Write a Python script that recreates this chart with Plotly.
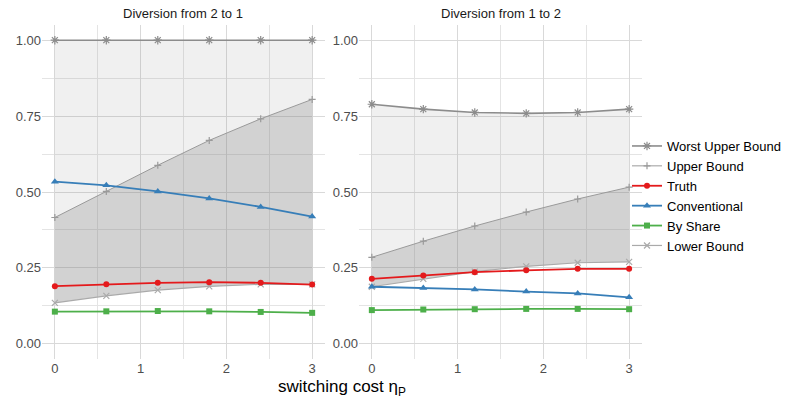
import plotly.graph_objects as go
from plotly.subplots import make_subplots

x_vals = [0, 0.6, 1.2, 1.8, 2.4, 3.0]
panel_titles = ["Diversion from 2 to 1", "Diversion from 1 to 2"]

# Panel 1: Diversion from 2 to 1
worst_upper_21 = [1.0, 1.0, 1.0, 1.0, 1.0, 1.0]
upper_21 = [0.416, 0.502, 0.588, 0.670, 0.741, 0.805]
truth_21 = [0.190, 0.196, 0.201, 0.203, 0.201, 0.195]
conventional_21 = [0.534, 0.522, 0.502, 0.479, 0.451, 0.419]
by_share_21 = [0.106, 0.107, 0.108, 0.107, 0.105, 0.102]
lower_21 = [0.135, 0.158, 0.177, 0.189, 0.196, 0.196]

# Panel 2: Diversion from 1 to 2
worst_upper_12 = [0.789, 0.773, 0.762, 0.759, 0.762, 0.773]
upper_12 = [0.285, 0.338, 0.388, 0.434, 0.477, 0.516]
truth_12 = [0.214, 0.225, 0.236, 0.242, 0.247, 0.247]
conventional_12 = [0.188, 0.184, 0.179, 0.172, 0.166, 0.153]
by_share_12 = [0.111, 0.113, 0.114, 0.115, 0.115, 0.114]
lower_12 = [0.188, 0.214, 0.238, 0.255, 0.267, 0.270]

y_ticks = [0.0, 0.25, 0.5, 0.75, 1.0]
y_tick_labels = ["0.00", "0.25", "0.50", "0.75", "1.00"]
x_ticks = [0, 1, 2, 3]
x_tick_labels = ["0", "1", "2", "3"]

FONT = "Liberation Sans, Arial, Helvetica, sans-serif"

series_styles = [
    # name, key, color, symbol, size, width, rank
    ("Worst Upper Bound", "worst", "#8c8c8c", "asterisk-open", 7, 1.6, 1),
    ("Upper Bound", "upper", "#9a9a9a", "cross-thin-open", 5, 1.0, 2),
    ("Lower Bound", "lower", "#aaaaaa", "x-thin-open", 6, 1.2, 6),
    ("By Share", "share", "#4daf4a", "square", 6, 1.8, 5),
    ("Conventional", "conv", "#377eb8", "triangle-up", 7, 1.8, 4),
    ("Truth", "truth", "#e41a1c", "circle", 6, 1.8, 3),
]

panels = [
    dict(worst=worst_upper_21, upper=upper_21, truth=truth_21,
         conv=conventional_21, share=by_share_21, lower=lower_21),
    dict(worst=worst_upper_12, upper=upper_12, truth=truth_12,
         conv=conventional_12, share=by_share_12, lower=lower_12),
]

fig = make_subplots(rows=1, cols=2, shared_yaxes=False, horizontal_spacing=0.0566)

for ci, data in enumerate(panels, start=1):
    # light ribbon: lower -> worst upper
    fig.add_trace(go.Scatter(x=x_vals, y=data["lower"], mode="lines",
                             line=dict(width=0), showlegend=False, hoverinfo="skip"),
                  row=1, col=ci)
    fig.add_trace(go.Scatter(x=x_vals, y=data["worst"], mode="lines",
                             line=dict(width=0), fill="tonexty",
                             fillcolor="rgba(128,128,128,0.12)",
                             showlegend=False, hoverinfo="skip"),
                  row=1, col=ci)
    # dark ribbon: lower -> upper
    fig.add_trace(go.Scatter(x=x_vals, y=data["lower"], mode="lines",
                             line=dict(width=0), showlegend=False, hoverinfo="skip"),
                  row=1, col=ci)
    fig.add_trace(go.Scatter(x=x_vals, y=data["upper"], mode="lines",
                             line=dict(width=0), fill="tonexty",
                             fillcolor="rgba(128,128,128,0.27)",
                             showlegend=False, hoverinfo="skip"),
                  row=1, col=ci)
    for name, key, color, symbol, size, width, rank in series_styles:
        thin = symbol.endswith("-open")
        marker = dict(symbol=symbol, size=size, color=color)
        if thin:
            marker["line"] = dict(color=color, width=1.2)
        fig.add_trace(go.Scatter(x=x_vals, y=data[key], mode="lines+markers",
                                 name=name, legendgroup=name, legendrank=rank,
                                 showlegend=(ci == 1),
                                 line=dict(color=color, width=width),
                                 marker=marker),
                      row=1, col=ci)

axis_common = dict(showline=False, zeroline=False, ticks="",
                   tickfont=dict(family=FONT, size=13, color="#4d4d4d"))
for ci in (1, 2):
    fig.update_xaxes(range=[-0.15, 3.15], tickvals=x_ticks, ticktext=x_tick_labels,
                     showgrid=True, gridcolor="#d9d9d9", gridwidth=1,
                     minor=dict(tickvals=[0.5, 1.5, 2.5], showgrid=True,
                                gridcolor="#e4e4e4", gridwidth=1),
                     row=1, col=ci, **axis_common)
    fig.update_yaxes(range=[-0.05, 1.05], tickvals=y_ticks, ticktext=y_tick_labels,
                     showgrid=True, gridcolor="#d9d9d9", gridwidth=1,
                     minor=dict(tickvals=[0.125, 0.375, 0.625, 0.875], showgrid=True,
                                gridcolor="#e4e4e4", gridwidth=1),
                     row=1, col=ci, **axis_common)

annotations = [
    dict(text=panel_titles[0], x=0.2358, y=1.0, xref="paper", yref="paper",
         xanchor="center", yanchor="bottom", yshift=2, showarrow=False,
         font=dict(family=FONT, size=13, color="#1a1a1a")),
    dict(text=panel_titles[1], x=0.7642, y=1.0, xref="paper", yref="paper",
         xanchor="center", yanchor="bottom", yshift=2, showarrow=False,
         font=dict(family=FONT, size=13, color="#1a1a1a")),
    dict(text="switching cost η<sub>P</sub>", x=0.5, y=0, xref="paper", yref="paper",
         xanchor="center", yanchor="top", yshift=-16, showarrow=False,
         font=dict(family=FONT, size=17, color="#000000")),
]

fig.update_layout(
    width=794, height=400,
    margin=dict(l=42, r=152, t=25, b=41, autoexpand=False),
    paper_bgcolor="white", plot_bgcolor="white",
    annotations=annotations,
    showlegend=True,
    legend=dict(x=0.975, xanchor="left", y=0.488, yanchor="middle",
                bgcolor="rgba(0,0,0,0)", tracegroupgap=0,
                font=dict(family=FONT, size=13, color="#000000")),
    font=dict(family=FONT),
)

fig.write_html("out.html", config={"displayModeBar": False},
               post_script="document.body.style.margin='0';document.body.style.overflow='hidden';")
